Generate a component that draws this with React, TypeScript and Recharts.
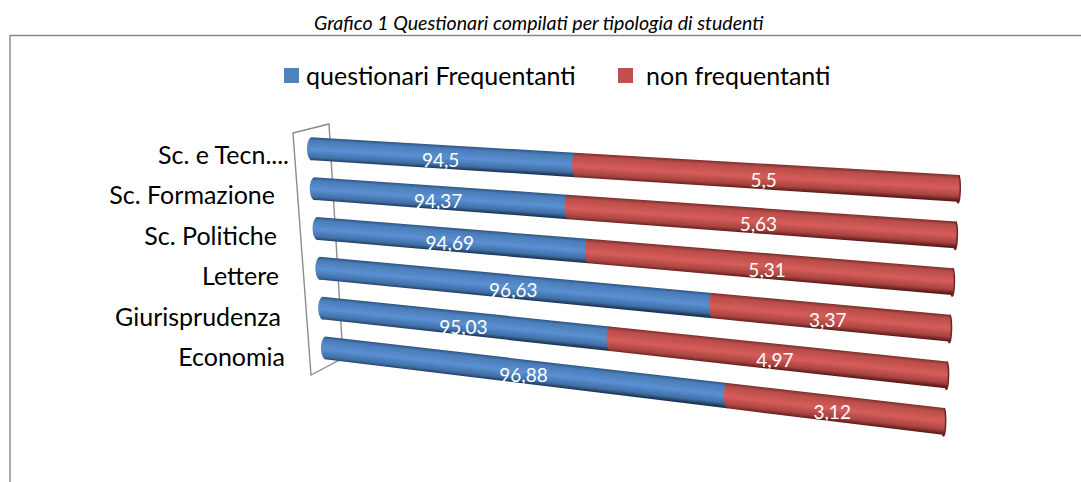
import { BarChart, Bar, XAxis, YAxis, Legend, LabelList } from 'recharts'

const categories = ['Sc. e Tecn....', 'Sc. Formazione', 'Sc. Politiche', 'Lettere', 'Giurisprudenza', 'Economia']
const frequentanti = [94.5, 94.37, 94.69, 96.63, 95.03, 96.88]
const nonFrequentanti = [5.5, 5.63, 5.31, 3.37, 4.97, 3.12]

const data = categories.map((name, i) => ({
  name,
  frequentanti: frequentanti[i],
  nonFrequentanti: nonFrequentanti[i],
}))

const FONT = 'Lato, "Open Sans", sans-serif'
const WIDTH = 1081
const HEIGHT = 482

// plot box of the flat chart, warped onto the tilted floor of the 3D original
const PLOT = { left: 200, top: 100, width: 780, height: 282 }
const CORNERS = {
  tl: [310.6, 129],
  tr: [959.5, 165.2],
  bl: [327.4, 368],
  br: [942, 444.8],
}
const DEPTH = 0.84

const lerp = (a: number, b: number, t: number) => a + (b - a) * t

function warp(px: number, py: number) {
  const raw = (px - PLOT.left) / PLOT.width
  const u = (DEPTH * raw) / (1 + (DEPTH - 1) * raw)
  const v = (py - PLOT.top) / PLOT.height
  return {
    x: lerp(lerp(CORNERS.tl[0], CORNERS.tr[0], u), lerp(CORNERS.bl[0], CORNERS.br[0], u), v),
    y: lerp(lerp(CORNERS.tl[1], CORNERS.tr[1], u), lerp(CORNERS.bl[1], CORNERS.br[1], u), v),
  }
}

const SHADES: Record<string, string[]> = {
  '#4F81BD': ['#2c5482', '#4a7cb8', '#5a90d2', '#3f6fa6', '#1c3554'],
  '#C0504D': ['#7a2e2c', '#b94c49', '#d65d59', '#a84340', '#5c1c1a'],
}
const STOPS = ['0%', '14%', '52%', '84%', '100%']

function TubeShape(props: any) {
  const { x, y, width, height, fill, index } = props
  const tl = warp(x, y)
  const tr = warp(x + width, y)
  const bl = warp(x, y + height)
  const br = warp(x + width, y + height)
  const id = `tube-${fill.slice(1)}-${index}`
  const top = { x: (tl.x + tr.x) / 2, y: (tl.y + tr.y) / 2 }
  const bottom = { x: (bl.x + br.x) / 2, y: (bl.y + br.y) / 2 }
  // shading runs square across the tube, not along the sheared sides
  const len = Math.hypot(tr.x - tl.x, tr.y - tl.y)
  const nx = -(tr.y - tl.y) / len
  const ny = (tr.x - tl.x) / len
  const thick = (bottom.x - top.x) * nx + (bottom.y - top.y) * ny
  const leftR = Math.hypot(tl.x - bl.x, tl.y - bl.y) / 2
  const rightR = Math.hypot(tr.x - br.x, tr.y - br.y) / 2
  const isEnd = fill === '#C0504D'
  const capR = isEnd ? 3 : 5
  const d = `M${tl.x},${tl.y} L${tr.x},${tr.y} A2 ${rightR} 0 0 1 ${br.x},${br.y} L${bl.x},${bl.y} A${capR} ${leftR} 0 0 1 ${tl.x},${tl.y} Z`
  return (
    <g>
      <defs>
        <linearGradient id={id} gradientUnits="userSpaceOnUse" x1={top.x} y1={top.y} x2={top.x + nx * thick} y2={top.y + ny * thick}>
          {SHADES[fill].map((c, i) => (
            <stop key={i} offset={STOPS[i]} stopColor={c} />
          ))}
        </linearGradient>
      </defs>
      <path d={d} fill={`url(#${id})`} />
      {isEnd && <path d={`M${tr.x},${tr.y} A2 ${rightR} 0 0 1 ${br.x},${br.y}`} fill="none" stroke="#6d2422" strokeWidth={1.5} />}
    </g>
  )
}

function ValueLabel(props: any) {
  const box = props.viewBox ?? props
  const midY = box.y + box.height / 2
  const a = warp(box.x, midY)
  const b = warp(box.x + box.width, midY)
  return (
    <text x={(a.x + b.x) / 2 - 3} y={(a.y + b.y) / 2 + 3} textAnchor="middle" dominantBaseline="central" fill="#fff" fontFamily={FONT} fontSize={19}>
      {String(props.value).replace('.', ',')}
    </text>
  )
}

const TICK_END = [289, 275, 277, 279, 281, 285]

function CategoryTick(props: any) {
  const { y, payload, index } = props
  const p = warp(PLOT.left, y)
  return (
    <text x={TICK_END[index]} y={p.y + 5 + index * 0.6} textAnchor="end" dominantBaseline="central" fill="#000" fontFamily={FONT} fontSize={25}>
      {payload.value}
    </text>
  )
}

function LegendRow({ payload }: any) {
  return (
    <div style={{ position: 'relative', height: 30, fontFamily: FONT, fontSize: 25, color: '#000' }}>
      {(payload ?? []).map((item: any, i: number) => (
        <div key={item.value} style={{ position: 'absolute', left: i === 0 ? 284 : 618, top: 0, display: 'flex', alignItems: 'center', height: 30, whiteSpace: 'nowrap' }}>
          <span style={{ width: 15, height: 15, background: item.color, marginRight: i === 0 ? 7 : 13 }} />
          {item.value}
        </div>
      ))}
    </div>
  )
}

export default function App() {
  return (
    <div style={{ position: 'absolute', left: 0, top: 0, width: WIDTH, height: HEIGHT, overflow: 'hidden', background: '#fff' }}>
      <div style={{ position: 'absolute', top: 11, left: 314, whiteSpace: 'nowrap', fontFamily: FONT, fontStyle: 'italic', fontSize: 19.6, color: '#000' }}>
        Grafico 1 Questionari compilati per tipologia di studenti
      </div>
      <svg width={WIDTH} height={HEIGHT} style={{ position: 'absolute', left: 0, top: 0 }}>
        <path d={`M10,${HEIGHT} L10,35.5 L${WIDTH},35.5`} fill="none" stroke="#868686" strokeWidth={1.4} />
        <path d="M293,133 L329,124 L343,358 L311,375 Z" fill="none" stroke="#8c8c8c" strokeWidth={1.4} />
      </svg>
      <div style={{ position: 'absolute', left: 0, top: 0 }}>
        <BarChart
          width={WIDTH}
          height={HEIGHT}
          data={data}
          layout="vertical"
          barCategoryGap="21%"
          margin={{ top: PLOT.top, left: 0, right: WIDTH - PLOT.left - PLOT.width, bottom: HEIGHT - PLOT.top - PLOT.height }}
        >
          <XAxis type="number" domain={[90, 100]} allowDataOverflow hide />
          <YAxis type="category" dataKey="name" width={PLOT.left} axisLine={false} tickLine={false} interval={0} tick={CategoryTick} />
          <Legend layout="horizontal" verticalAlign="middle" align="center" itemSorter="dataKey" wrapperStyle={{ top: 60, left: 0, width: WIDTH }} content={LegendRow} />
          <Bar dataKey="frequentanti" name="questionari Frequentanti" stackId="a" fill="#4F81BD" shape={TubeShape} isAnimationActive={false}>
            <LabelList dataKey="frequentanti" content={ValueLabel} />
          </Bar>
          <Bar dataKey="nonFrequentanti" name="non frequentanti" stackId="a" fill="#C0504D" shape={TubeShape} isAnimationActive={false}>
            <LabelList dataKey="nonFrequentanti" content={ValueLabel} />
          </Bar>
        </BarChart>
      </div>
    </div>
  )
}
